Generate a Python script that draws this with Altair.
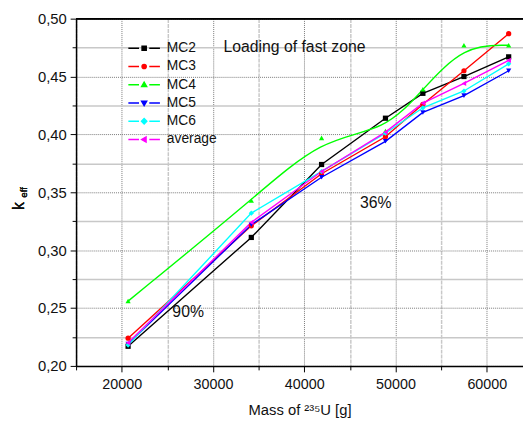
import altair as alt
import pandas as pd

# ---- data ----
series = ["MC2", "MC3", "MC4", "MC5", "MC6", "average"]
mass = [20700, 34200, 41900, 48900, 53000, 57500, 62400]
mc2 = [0.217, 0.311, 0.374, 0.414, 0.4355, 0.450, 0.467]
mc3 = [0.224, 0.321, 0.366, 0.398, 0.426, 0.455, 0.487]
mc4 = [0.256, 0.343, 0.397, 0.403, 0.439, 0.477, 0.477]
mc5 = [0.219, 0.322, 0.363, 0.394, 0.419, 0.4335, 0.455]
mc6 = [0.218, 0.332, 0.368, 0.401, 0.423, 0.4375, 0.461]
avg = [0.220, 0.324, 0.368, 0.402, 0.427, 0.444, 0.464]

colors = ["#000000", "#ff0000", "#00ff00", "#0000ff", "#00ffff", "#ff00ff"]
shapes = ["square", "circle", "triangle-up", "triangle-down", "diamond", "triangle-left"]

ann_text = ["Loading of fast zone", "36%", "90%"]
ann_x = [31150, 46100, 25550]
ann_y = [0.4753, 0.3403, 0.2465]

x_ticks = [15000, 20000, 25000, 30000, 35000, 40000, 45000, 50000, 55000, 60000]
y_ticks = [0.2, 0.225, 0.25, 0.275, 0.3, 0.325, 0.35, 0.375, 0.4, 0.425, 0.45, 0.475, 0.5]

vals = [mc2, mc3, mc4, mc5, mc6, avg]
rows = []
for s, v in zip(series, vals):
    for m, k in zip(mass, v):
        rows.append({"series": s, "mass": m, "keff": k})
df = pd.DataFrame(rows)
ann = pd.DataFrame({"t": ann_text, "mass": ann_x, "keff": ann_y})

FONT = "Liberation Sans"
W, H = 453, 352

# legend symbols: line - marker - line (custom SVG paths)
SYM = 18.0          # nominal legend symbol size in px
HALF = 16.0         # half width of the drawn symbol in px
def p(v):
    return f"{v / (SYM / 2):.3f}"
def path_for(marker):
    segs = f"M{p(-HALF)},0H{p(-5.2)}M{p(5.2)},0H{p(HALF)}"
    a = 2.2
    if marker == "square":
        m = f"M{p(-a)},{p(-a)}H{p(a)}V{p(a)}H{p(-a)}Z"
    elif marker == "circle":
        m = f"M{p(-a)},0A{p(a)},{p(a)},0,1,0,{p(a)},0A{p(a)},{p(a)},0,1,0,{p(-a)},0Z"
    elif marker == "triangle-up":
        m = f"M0,{p(-2.7)}L{p(2.7)},{p(2)}L{p(-2.7)},{p(2)}Z"
    elif marker == "triangle-down":
        m = f"M0,{p(2.7)}L{p(2.7)},{p(-2)}L{p(-2.7)},{p(-2)}Z"
    elif marker == "diamond":
        m = f"M0,{p(-2.8)}L{p(2.8)},0L0,{p(2.8)}L{p(-2.8)},0Z"
    else:
        m = f"M{p(-2.7)},0L{p(2)},{p(-2.7)}L{p(2)},{p(2.7)}Z"
    return segs + m
legend_paths = [path_for(s) for s in shapes]

xmaj = "datum.value % 10000 === 0"
ymaj = "abs(datum.value*20 - round(datum.value*20)) < 1e-6"

xaxis = alt.Axis(
    values=x_ticks,
    labelExpr=f"{xmaj} ? format(datum.value, 'd') : ''",
    title="Mass of ²³⁵U [g]",
    titleFont=FONT, titleFontSize=15, titleFontWeight="normal", titleColor="#111",
    titlePadding=12,
    labelFont=FONT, labelFontSize=14.5, labelColor="#111", labelPadding=6,
    domainColor="#000", domainWidth=1.5,
    tickColor="#000", tickWidth=1,
    tickSize={"condition": {"test": xmaj, "value": 6}, "value": 4},
    grid=True,
    gridColor={"condition": {"test": xmaj, "value": "#7a7a7a"}, "value": "#c8c8c8"},
    gridDash={"condition": {"test": xmaj, "value": [1, 1]}, "value": [4, 1]},
    gridWidth={"condition": {"test": xmaj, "value": 1}, "value": 1.5},
)
yaxis = alt.Axis(
    values=y_ticks,
    labelExpr=f"{ymaj} ? replace(format(datum.value, '.2f'), '.', ',') : ''",
    title=None,
    labelFont=FONT, labelFontSize=15, labelColor="#111", labelPadding=4,
    domainColor="#000", domainWidth=1.5,
    tickColor="#000", tickWidth=1,
    tickSize={"condition": {"test": ymaj, "value": 6}, "value": 4},
    grid=True,
    gridColor={"condition": {"test": ymaj, "value": "#7a7a7a"}, "value": "#c8c8c8"},
    gridDash={"condition": {"test": ymaj, "value": [1, 1]}, "value": []},
    gridWidth={"condition": {"test": ymaj, "value": 1}, "value": 1.5},
)

X = alt.X("mass:Q", scale=alt.Scale(domain=[15000, 63970], nice=False, zero=False), axis=xaxis)
Y = alt.Y("keff:Q", scale=alt.Scale(domain=[0.2, 0.5], nice=False, zero=False), axis=yaxis)
cscale = alt.Scale(domain=series, range=colors)

base = alt.Chart(df)

lines_lin = base.transform_filter("datum.series != 'MC4'").mark_line(strokeWidth=1.4).encode(
    x=X, y=Y, color=alt.Color("series:N", scale=cscale, legend=None)
)
lines_basis = base.transform_filter("datum.series == 'MC4'").mark_line(
    strokeWidth=1.4, interpolate="basis"
).encode(x=X, y=Y, color=alt.Color("series:N", scale=cscale, legend=None))

points = base.mark_point(filled=True, size=28, opacity=1).encode(
    x=X, y=Y,
    color=alt.Color("series:N", scale=cscale, legend=None),
    shape=alt.Shape("series:N", scale=alt.Scale(domain=series, range=shapes), legend=None),
)

leg = alt.Legend(
    orient="none", legendX=59, legendY=20, title=None,
    labelFont=FONT, labelFontSize=14, labelColor="#111", labelOffset=13,
    symbolSize=SYM * SYM, symbolStrokeWidth=1.3, symbolOpacity=1, rowPadding=1.5, padding=0,
)
legend_layer = base.mark_point(filled=True, opacity=0).encode(
    x=X, y=Y,
    shape=alt.Shape("series:N", scale=alt.Scale(domain=series, range=legend_paths), legend=leg),
    fill=alt.Fill("series:N", scale=cscale, legend=leg),
    stroke=alt.Stroke("series:N", scale=cscale, legend=leg),
)

texts = alt.Chart(ann).mark_text(align="left", baseline="middle", font=FONT, fontSize=16, color="#111").encode(
    x=X, y=Y, text="t:N"
)

top_border = alt.Chart(ann).mark_rule(color="#000", strokeWidth=1.5).encode(
    x=alt.value(0), x2=alt.value(W), y=alt.value(0)
)
ytitle_k = alt.Chart(ann).mark_text(angle=270, align="center", baseline="middle", font=FONT, fontSize=16, color="#111", text="k").encode(
    x=alt.value(-58), y=alt.value(190)
)
ytitle_eff = alt.Chart(ann).mark_text(angle=270, align="center", baseline="middle", font=FONT, fontSize=10, color="#111", text="eff").encode(
    x=alt.value(-53), y=alt.value(176)
)

chart = alt.layer(
    lines_lin, lines_basis, points, legend_layer, texts, top_border, ytitle_k, ytitle_eff
).resolve_scale(shape="independent", fill="independent", stroke="independent").properties(
    width=W, height=H,
    autosize=alt.AutoSizeParams(type="none"),
    padding={"left": 69, "top": 8, "right": 0, "bottom": 51},
).configure_view(stroke=None)

chart.save("out.html", embed_options={"renderer": "svg", "actions": False})
